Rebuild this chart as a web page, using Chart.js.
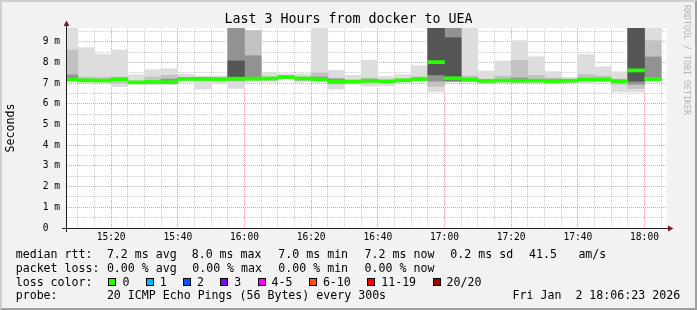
<!DOCTYPE html>
<html lang="en">
<head>
<meta charset="UTF-8">
<title>Last 3 Hours from docker to UEA</title>
<script src="https://cdn.jsdelivr.net/npm/chart.js"></script>
<style>
  html, body { margin: 0; padding: 0; background: #f2f2f2; }
  #graph { position: relative; width: 697px; height: 310px; overflow: hidden;
           font-family: 'DejaVu Sans Mono', monospace; color: #000; }
  #graph canvas { position: absolute; left: 0; top: 0; }
  #shade { position: absolute; left: 0; top: 0; width: 697px; height: 310px; box-sizing: border-box;
           border: 2px solid; border-color: #cfcfcf #9e9e9e #9e9e9e #cfcfcf; pointer-events: none; }
  #title { position: absolute; left: 0; top: 11px; width: 697px; text-align: center;
           font-size: 13.3px; line-height: 16px; }
  #mark { position: absolute; left: 683px; top: 5px; writing-mode: vertical-rl;
          font-size: 8.3px; line-height: 8px; color: #b4b4b4; }
  .txt { position: absolute; white-space: pre; font-size: 11.6px; line-height: 14px; }
  .swatch { position: absolute; width: 8px; height: 8px; box-sizing: border-box; border: 1px solid #000; }
</style>
</head>
<body>
<div id="graph">
  <canvas id="smoke" width="697" height="310"></canvas>
  <div id="title">Last 3 Hours from docker to UEA</div>
  <div id="mark">RRDTOOL / TOBI OETIKER</div>
  <div id="legend"></div>
  <div id="shade"></div>
</div>

<script>
  // 5 minute bins, start time of each
  const binStart = ['15:05', '15:10', '15:15', '15:20', '15:25', '15:30', '15:35', '15:40', '15:45', '15:50', '15:55',
    '16:00', '16:05', '16:10', '16:15', '16:20', '16:25', '16:30', '16:35', '16:40', '16:45', '16:50', '16:55',
    '17:00', '17:05', '17:10', '17:15', '17:20', '17:25', '17:30', '17:35', '17:40', '17:45', '17:50', '17:55',
    '18:00'];

  // smoke, in ms: outer band (min..max of the 20 pings) and denser inner bands
  const smokeMin = [7.08, 7.05, 7.05, 6.84, 6.96, 6.92, 6.92, 7.10, 6.72, 7.00, 6.75, 7.08, 7.06, 7.20, 7.06, 7.05, 6.71, 6.95,
    6.86, 6.88, 7.05, 7.10, 6.58, 7.05, 7.05, 7.06, 7.06, 7.03, 7.04, 6.98, 7.05, 6.98, 7.08, 6.58, 6.58, 7.08];
  const smokeMax = [9.9, 8.72, 8.40, 8.61, 7.41, 7.65, 7.70, 7.43, 7.35, 7.36, 9.9, 9.55, 7.52, 7.45, 7.45, 9.9, 7.62, 7.38,
    8.12, 7.33, 7.42, 7.85, 9.9, 9.9, 9.9, 7.59, 8.07, 9.06, 8.28, 7.56, 7.28, 8.39, 7.80, 7.55, 9.9, 9.9];
  const band2Lo = [7.12, 7.10, 7.10, 7.00, 7.00, 7.00, 7.00, 7.15, 7.10, 7.12, 7.10, 7.15, 7.15, null, 7.12, 7.10, 6.95, 7.00,
    7.00, 7.02, 7.08, 7.15, 6.85, 7.08, 7.10, 7.08, 7.10, 7.08, 7.08, 7.05, 7.08, 7.10, 7.12, 6.95, 6.75, 7.10];
  const band2Hi = [8.60, 7.30, 7.28, 7.30, 7.10, 7.30, 7.38, 7.28, 7.28, 7.26, 9.9, 9.55, 7.30, null, 7.30, 7.50, 7.25, 7.15,
    7.25, 7.15, 7.22, 7.30, 9.9, 9.9, 7.35, 7.20, 7.35, 8.10, 7.38, 7.25, 7.18, 7.42, 7.35, 7.20, 9.9, 9.06];
  const band3Lo = [7.15, null, null, null, null, null, 7.05, null, null, null, 7.15, 7.18, null, null, null, 7.15, 7.10, null,
    null, null, null, null, 7.10, 7.10, 7.12, null, null, 7.10, null, 7.08, null, null, null, null, 6.95, 7.15];
  const band3Hi = [7.40, null, null, null, null, null, 7.20, null, null, null, 9.9, 8.33, null, null, null, 7.30, 7.20, null,
    null, null, null, null, 9.9, 9.9, 7.25, null, null, 7.25, null, 7.18, null, null, null, null, 9.9, 8.27];
  const band4Lo = [null, null, null, null, null, null, null, null, null, null, 7.28, null, null, null, null, null, null, null,
    null, null, null, null, 7.40, 7.15, null, null, null, null, null, null, null, null, null, null, 7.10, null];
  const band4Hi = [null, null, null, null, null, null, null, null, null, null, 8.08, null, null, null, null, null, null, null,
    null, null, null, null, 9.9, 9.20, null, null, null, null, null, null, null, null, null, null, 9.9, null];
  const medianRtt = [7.18, 7.14, 7.13, 7.19, 7.04, 7.06, 7.05, 7.21, 7.21, 7.20, 7.22, 7.22, 7.23, 7.30, 7.23, 7.20, 7.07, 7.08,
    7.12, 7.09, 7.14, 7.20, 8.02, 7.24, 7.17, 7.11, 7.13, 7.12, 7.12, 7.10, 7.12, 7.18, 7.18, 7.10, 7.62, 7.21];

  const rttStats = ['7.2 ms avg', '8.0 ms max', '7.0 ms min', '7.2 ms now', '0.2 ms sd', '41.5', 'am/s'];
  const lossStats = ['0.00 % avg', '0.00 % max', '0.00 % min', '0.00 % now'];
  const lossLabels = ['0', '1', '2', '3', '4-5', '6-10', '11-19', '20/20'];
  const lossColors = ['#26ff00', '#00b8ff', '#0059ff', '#7e00ff', '#ff00ff', '#ff5500', '#ff0000', '#a10000'];
  const probeText = '20 ICMP Echo Pings (56 Bytes) every 300s';
  const stampText = 'Fri Jan  2 18:06:23 2026';

  // ---- legend text (html) ----
  const legend = document.getElementById('legend');
  function put(text, x, y) {
    const d = document.createElement('div');
    d.className = 'txt';
    d.textContent = text;
    d.style.left = x + 'px';
    d.style.top = y + 'px';
    legend.appendChild(d);
  }
  const rttX = [106.9, 191.7, 278.3, 364.6, 450.3, 529.1, 578.4];
  const lossX = [106.9, 192.2, 278.3, 364.6];
  put('median rtt:', 15.7, 247);
  rttStats.forEach((t, i) => put(t, rttX[i], 247));
  put('packet loss:', 15.7, 261);
  lossStats.forEach((t, i) => put(t, lossX[i], 261));
  put('loss color:', 15.7, 274.7);
  let sx = 108.4;
  lossLabels.forEach((t, i) => {
    const sw = document.createElement('div');
    sw.className = 'swatch';
    sw.style.left = sx + 'px';
    sw.style.top = '278px';
    sw.style.background = lossColors[i];
    legend.appendChild(sw);
    put(t, sx + 14, 274.7);
    sx += 30.3 + 7 * t.length;
  });
  put('probe:', 15.7, 288.3);
  put(probeText, 106.9, 288.3);
  put(stampText, 512.6, 288.3);

  // ---- chart ----
  const toMin = s => { const p = s.split(':'); return p[0] * 60 + +p[1]; };
  const fmt = v => Math.floor(v / 60) + ':' + String(v % 60).padStart(2, '0');
  const xStart = toMin('15:06') + 0.75;
  const xEnd = xStart + 180;
  const centers = binStart.map(s => toMin(s) + 2.5);
  const medianHalf = 0.075;   // ~3px thick median line

  const band = (lo, hi) => centers
    .map((x, i) => lo[i] == null ? null : { x: x, y: [lo[i], hi[i]] })
    .filter(p => p);

  const layers = [
    { lo: smokeMin, hi: smokeMax, color: '#dddddd' },
    { lo: band2Lo, hi: band2Hi, color: '#c2c2c2' },
    { lo: band3Lo, hi: band3Hi, color: '#929292' },
    { lo: band4Lo, hi: band4Hi, color: '#555555' }
  ];
  const barOpts = { grouped: false, barPercentage: 1, categoryPercentage: 1, borderWidth: 0, clip: 0 };
  const datasets = layers.map((l, i) => Object.assign({
    data: band(l.lo, l.hi),
    backgroundColor: l.color,
    order: 10 - i
  }, barOpts));
  datasets.push(Object.assign({
    data: centers.map((x, i) => ({ x: x, y: [medianRtt[i] - medianHalf, medianRtt[i] + medianHalf] })),
    backgroundColor: lossColors[0],
    order: 1
  }, barOpts));

  const minorGrid = 'rgba(143,143,143,0.45)';
  const majorGrid = 'rgba(222,79,79,0.55)';

  const plotFrame = {
    id: 'plotFrame',
    beforeDraw(chart) {
      const { ctx, chartArea: a } = chart;
      ctx.save();
      ctx.fillStyle = '#ffffff';
      ctx.fillRect(a.left, a.top, a.right - a.left, a.bottom - a.top);
      ctx.restore();
    },
    afterDraw(chart) {
      const { ctx, chartArea: a } = chart;
      ctx.save();
      ctx.strokeStyle = '#1f1f1f';
      ctx.lineWidth = 1;
      ctx.beginPath();
      ctx.moveTo(a.left - 5, a.bottom + 0.5);
      ctx.lineTo(a.right + 3, a.bottom + 0.5);
      ctx.moveTo(a.left - 0.5, a.bottom + 4);
      ctx.lineTo(a.left - 0.5, a.top - 3);
      ctx.stroke();
      // arrows
      ctx.fillStyle = '#801f1f';
      ctx.beginPath();
      ctx.moveTo(a.right + 1, a.bottom - 2.5);
      ctx.lineTo(a.right + 6.5, a.bottom + 0.5);
      ctx.lineTo(a.right + 1, a.bottom + 3.5);
      ctx.closePath();
      ctx.fill();
      ctx.beginPath();
      ctx.moveTo(a.left - 3.5, a.top - 2);
      ctx.lineTo(a.left - 0.5, a.top - 7.5);
      ctx.lineTo(a.left + 2.5, a.top - 2);
      ctx.closePath();
      ctx.fill();
      ctx.restore();
    }
  };

  const tickFont = { family: 'DejaVu Sans Mono', size: 9.6 };

  new Chart(document.getElementById('smoke'), {
    type: 'bar',
    data: { datasets: datasets },
    plugins: [plotFrame],
    options: {
      responsive: false,
      animation: false,
      layout: { padding: { left: 0, right: 30, top: 28, bottom: 62 } },
      plugins: { legend: { display: false }, tooltip: { enabled: false } },
      scales: {
        x: {
          type: 'linear',
          min: xStart,
          max: xEnd,
          offset: false,
          z: 1,
          afterBuildTicks: ax => {
            ax.ticks = [];
            for (let v = Math.ceil(xStart / 5) * 5; v < xEnd; v += 5) ax.ticks.push({ value: v });
          },
          afterFit: ax => { ax.height = 20; },
          grid: {
            offset: false,
            drawTicks: false,
            lineWidth: 1,
            color: c => (c.tick && c.tick.value % 20 === 0) ? majorGrid : minorGrid
          },
          border: { display: false, dash: [1, 1] },
          ticks: {
            autoSkip: false,
            maxRotation: 0,
            padding: 4,
            color: '#000',
            font: tickFont,
            callback: v => v % 20 === 0 ? fmt(v) : ''
          }
        },
        y: {
          min: 0,
          max: 9.67,
          z: 1,
          afterFit: ax => { ax.width = 67; },
          grid: {
            drawTicks: false,
            lineWidth: 1,
            color: c => (c.tick && c.tick.value % 1 === 0) ? majorGrid : minorGrid
          },
          border: { display: false, dash: [1, 1] },
          ticks: {
            stepSize: 0.5,
            includeBounds: false,
            autoSkip: false,
            padding: 7,
            color: '#000',
            font: tickFont,
            callback: v => v === 0 ? '0  ' : (v % 1 === 0 ? v + ' m' : '')
          },
          title: {
            display: true,
            text: 'Seconds',
            color: '#000',
            font: { family: 'DejaVu Sans Mono', size: 11.6 },
            padding: { top: 4, bottom: 4 }
          }
        }
      }
    }
  });
</script>
</body>
</html>
